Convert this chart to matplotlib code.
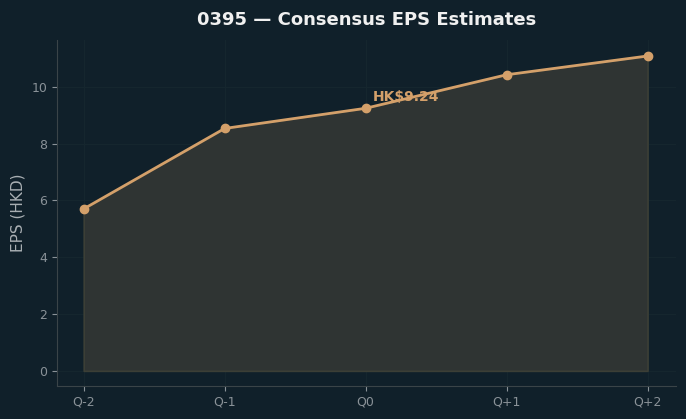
import matplotlib
matplotlib.use("Agg")
import matplotlib.pyplot as plt
import numpy as np

quarters = ["Q-2", "Q-1", "Q0", "Q+1", "Q+2"]
eps = [5.70, 8.53, 9.24, 10.42, 11.08]
current_idx = 2

BG = "#10202a"
LINE = "#d4a06a"
TICK = "#8a9298"

fig, ax = plt.subplots(figsize=(6.86, 4.19), dpi=100)
fig.patch.set_facecolor(BG)
ax.set_facecolor(BG)

x = np.arange(len(quarters))
ax.fill_between(x, eps, 0, color="#2f3433", edgecolor="#3c3f36", linewidth=1.2, zorder=1)
ax.plot(x, eps, color=LINE, linewidth=2, marker="o", markersize=6, zorder=3)
ax.annotate(f"HK${eps[current_idx]:.2f}", (x[current_idx], eps[current_idx]),
            xytext=(5, 5), textcoords="offset points", color=LINE,
            fontsize=10, fontweight="bold", zorder=4)

ax.set_xticks(x)
ax.set_xticklabels(quarters)
ax.set_ylim(-0.53, 11.65)
ax.set_xlim(-0.19, 4.2)
ax.set_ylabel("EPS (HKD)", color="#a9afb3", fontsize=11)
ax.set_title("0395 — Consensus EPS Estimates", color="#f0f0f0", fontsize=13,
             fontweight="bold", pad=11)
ax.tick_params(colors=TICK, labelsize=9)
ax.grid(True, color="#15262e", linewidth=0.8)
ax.set_axisbelow(True)
for side in ["top", "right"]:
    ax.spines[side].set_visible(False)
for side in ["left", "bottom"]:
    ax.spines[side].set_color("#3a4448")

fig.subplots_adjust(left=0.083, right=0.985, top=0.905, bottom=0.079)
fig.savefig("out.png", dpi=100, facecolor=BG)
